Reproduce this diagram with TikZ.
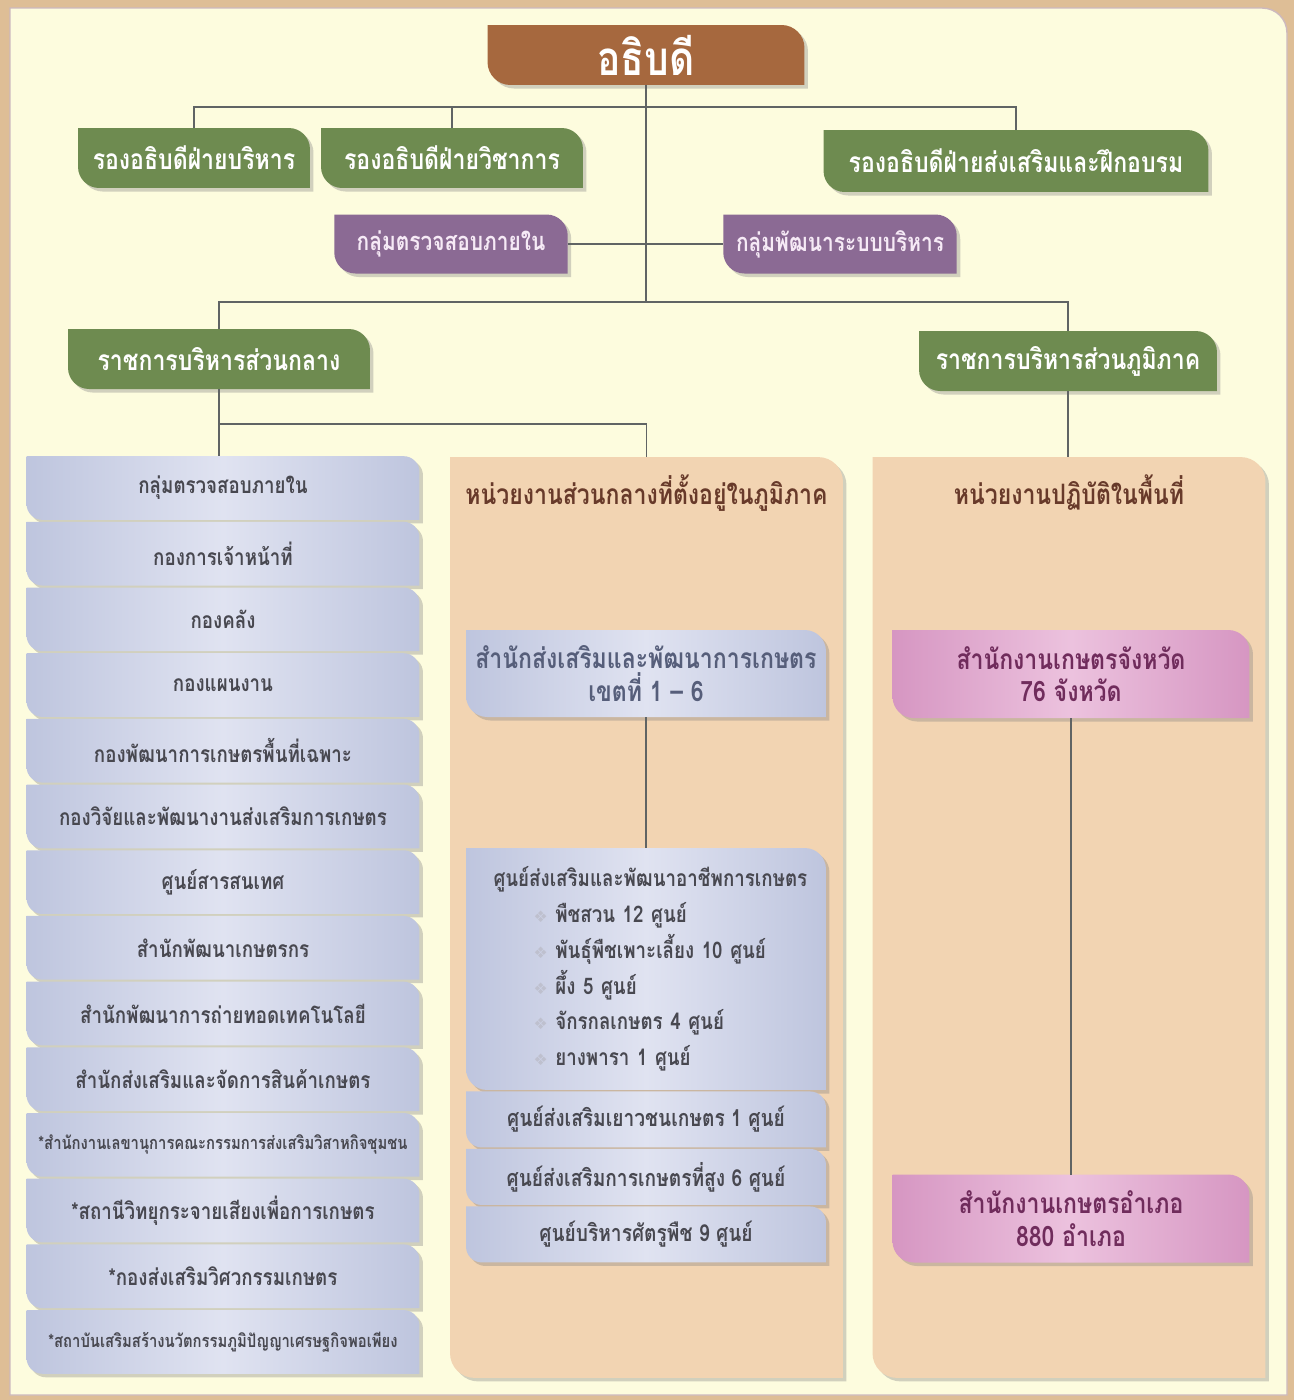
\documentclass[tikz,border=0pt]{standalone}
\usepackage{fontspec}
\usepackage{tikz}
\usetikzlibrary{positioning,calc,shadows,backgrounds}
\usepackage{xcolor}
\newfontfamily\thaifont[Script=Thai,FakeStretch=0.82]{Loma}
\newfontfamily\symfont{DejaVu Sans}
\definecolor{PageCream}{RGB}{253,252,222}
\definecolor{OuterTan}{RGB}{222,190,150}
\definecolor{PanelEdge}{RGB}{205,185,190}
\definecolor{ChiefBrown}{RGB}{166,104,62}
\definecolor{VpGreen}{RGB}{110,139,80}
\definecolor{AuditPurple}{RGB}{139,106,148}
\definecolor{AuditText}{RGB}{246,234,246}
\definecolor{ListBlue}{RGB}{190,197,222}
\definecolor{ListBlueLight}{RGB}{224,227,241}
\definecolor{PanelTan}{RGB}{242,212,178}
\definecolor{TitleBrown}{RGB}{104,58,42}
\definecolor{ProvPink}{RGB}{214,150,194}
\definecolor{ProvPinkLight}{RGB}{236,194,222}
\definecolor{ProvText}{RGB}{112,44,92}
\definecolor{ListText}{RGB}{72,72,80}
\definecolor{ZoneText}{RGB}{86,94,122}
\definecolor{LinkGrey}{RGB}{96,100,100}
\definecolor{BulletGrey}{RGB}{190,192,206}
\pgfdeclarelayer{back}
\pgfdeclarelayer{boxes}
\pgfsetlayers{back,boxes,main}
% leaf shaped box behind a named node: square top-left and bottom-right corners
\newcommand{\leaf}[3]{%
  \path[#2, drop shadow={shadow xshift=2pt, shadow yshift=-2pt, opacity=0.35}]
    (#1.north west) -- ([xshift=-#3]#1.north east)
    .. controls ([xshift=-0.45*#3]#1.north east) and ([yshift=-0.45*#3]#1.north east) .. ([yshift=-#3]#1.north east)
    -- (#1.south east) -- ([xshift=#3]#1.south west)
    .. controls ([xshift=0.45*#3]#1.south west) and ([yshift=0.45*#3]#1.south west) .. ([yshift=#3]#1.south west) -- cycle;}

\begin{document}
\begin{tikzpicture}[
  x=0.02cm, y=-0.02cm,
  every node/.style={font=\thaifont\bfseries, inner sep=0pt, outer sep=0pt, align=center},
  chiefbox/.style={text=white, minimum width=6.34cm, minimum height=1.2cm, font=\thaifont\bfseries\fontsize{27}{30}\selectfont},
  vpbox/.style={text=white, minimum height=1.2cm, font=\thaifont\bfseries\fontsize{16}{19}\selectfont},
  groupbox/.style={text=AuditText, minimum width=4.67cm, minimum height=1.18cm, font=\thaifont\bfseries\fontsize{14.5}{17}\selectfont},
  listbox/.style={text=ListText, minimum width=7.86cm, minimum height=1.274cm, font=\thaifont\bfseries\fontsize{13}{15}\selectfont},
  listsmall/.style={listbox, font=\thaifont\bfseries\fontsize{10.3}{13}\selectfont},
  panel/.style={minimum width=7.86cm, minimum height=18.42cm},
  paneltitle/.style={text=TitleBrown, font=\thaifont\bfseries\fontsize{16}{19}\selectfont},
  zonebox/.style={text=ZoneText, minimum width=7.2cm, font=\thaifont\bfseries\fontsize{16}{18.7}\selectfont},
  centrebox/.style={text=ListText, minimum width=7.2cm, minimum height=1.12cm, font=\thaifont\bfseries\fontsize{13.3}{15}\selectfont},
  provbox/.style={text=ProvText, minimum width=7.14cm, minimum height=1.76cm, font=\thaifont\bfseries\fontsize{16}{18.5}\selectfont},
  link/.style={draw=LinkGrey, line width=0.8pt}
]
\useasboundingbox (0,0) rectangle (1294,1400);

% top of the chart
\node[chiefbox] (chief) at (646,55) {อธิบดี};
\node[vpbox, minimum width=4.64cm] (vp1) at (194,158) {รองอธิบดีฝ่ายบริหาร};
\node[vpbox, minimum width=5.24cm] (vp2) at (452,158) {รองอธิบดีฝ่ายวิชาการ};
\node[vpbox, minimum width=7.7cm, minimum height=1.24cm] (vp3) at (1016,161) {รองอธิบดีฝ่ายส่งเสริมและฝึกอบรม};
\node[groupbox] (audit) at (451,244) {กลุ่มตรวจสอบภายใน};
\node[groupbox] (devgrp) at (840,244) {กลุ่มพัฒนาระบบบริหาร};
\node[vpbox, minimum width=6.04cm] (central) at (219,359) {ราชการบริหารส่วนกลาง};
\node[vpbox, minimum width=5.96cm] (regional) at (1068,361) {ราชการบริหารส่วนภูมิภาค};

\coordinate (bus1) at (646,107);
\coordinate (bus2) at (646,302);
\coordinate (bus3) at (219,424);

% left column
\node[listbox] (l1) at (223,488) {กลุ่มตรวจสอบภายใน};
\node[listbox, below=0.04cm of l1] (l2) {กองการเจ้าหน้าที่};
\node[listbox, below=0.04cm of l2] (l3) {กองคลัง};
\node[listbox, below=0.04cm of l3] (l4) {กองแผนงาน};
\node[listbox, below=0.04cm of l4] (l5) {กองพัฒนาการเกษตรพื้นที่เฉพาะ};
\node[listbox, below=0.04cm of l5] (l6) {กองวิจัยและพัฒนางานส่งเสริมการเกษตร};
\node[listbox, below=0.04cm of l6] (l7) {ศูนย์สารสนเทศ};
\node[listbox, below=0.04cm of l7] (l8) {สำนักพัฒนาเกษตรกร};
\node[listbox, below=0.04cm of l8] (l9) {สำนักพัฒนาการถ่ายทอดเทคโนโลยี};
\node[listbox, below=0.04cm of l9] (l10) {สำนักส่งเสริมและจัดการสินค้าเกษตร};
\node[listsmall, below=0.04cm of l10] (l11) {*สำนักงานเลขานุการคณะกรรมการส่งเสริมวิสาหกิจชุมชน};
\node[listbox, below=0.04cm of l11] (l12) {*สถานีวิทยุกระจายเสียงเพื่อการเกษตร};
\node[listbox, below=0.04cm of l12] (l13) {*กองส่งเสริมวิศวกรรมเกษตร};
\node[listsmall, below=0.04cm of l13] (l14) {*สถาบันเสริมสร้างนวัตกรรมภูมิปัญญาเศรษฐกิจพอเพียง};

% middle column
\node[panel] (mid) at (646.5,917.5) {};
\node[paneltitle] (midtitle) at (646.5,493) {หน่วยงานส่วนกลางที่ตั้งอยู่ในภูมิภาค};
\node[zonebox, minimum height=1.74cm] (zone) at (646,673.5) {สำนักส่งเสริมและพัฒนาการเกษตร\\เขตที่ 1 – 6};
\node[centrebox, minimum height=4.84cm, align=left, text width=6.1cm, font=\thaifont\bfseries\fontsize{13}{20.4}\selectfont] (career) at (646,969)
  {ศูนย์ส่งเสริมและพัฒนาอาชีพการเกษตร\\
   \hspace*{0.8cm}{\symfont\color{BulletGrey}\small ❖} พืชสวน 12 ศูนย์\\
   \hspace*{0.8cm}{\symfont\color{BulletGrey}\small ❖} พันธุ์พืชเพาะเลี้ยง 10 ศูนย์\\
   \hspace*{0.8cm}{\symfont\color{BulletGrey}\small ❖} ผึ้ง 5 ศูนย์\\
   \hspace*{0.8cm}{\symfont\color{BulletGrey}\small ❖} จักรกลเกษตร 4 ศูนย์\\
   \hspace*{0.8cm}{\symfont\color{BulletGrey}\small ❖} ยางพารา 1 ศูนย์};
\node[centrebox, below=0.03cm of career] (youth) {ศูนย์ส่งเสริมเยาวชนเกษตร 1 ศูนย์};
\node[centrebox, below=0.03cm of youth] (highland) {ศูนย์ส่งเสริมการเกษตรที่สูง 6 ศูนย์};
\node[centrebox, below=0.03cm of highland] (pest) {ศูนย์บริหารศัตรูพืช 9 ศูนย์};

% right column
\node[panel] (field) at (1069,917.5) {};
\node[paneltitle] (fieldtitle) at (1069,493) {หน่วยงานปฏิบัติในพื้นที่};
\node[provbox] (prov) at (1071,674) {สำนักงานเกษตรจังหวัด\\76 จังหวัด};
\node[provbox] (dist) at (1071,1218.5) {สำนักงานเกษตรอำเภอ\\880 อำเภอ};

% connectors
\draw[link] (chief.south) -- (bus2);
\draw[link] (vp1.north) |- (vp3.north |- bus1) -- (vp3.north);
\draw[link] (vp2.north) -- (vp2.north |- bus1);
\draw[link] (audit.east) -- (devgrp.west);
\draw[link] (central.north) |- (regional.north |- bus2) -- (regional.north);
\draw[link] (central.south) -- (central.south |- l1.north);
\draw[link] (bus3) -| (mid.north);
\draw[link] (regional.south) -- (regional.south |- field.north);
\draw[link] (zone.south) -- (career.north);
\draw[link] (prov.south) -- (dist.north);

% box shapes
\begin{pgfonlayer}{back}
  \fill[OuterTan] (0,0) rectangle (1294,1400);
  \path[fill=PageCream, draw=PanelEdge, line width=0.8pt] (10,8) -- (1262,8) .. controls (1276,8) and (1287,19) .. (1287,33) -- (1287,1395) -- (10,1395) -- cycle;
\end{pgfonlayer}
\begin{pgfonlayer}{boxes}
  \leaf{chief}{fill=ChiefBrown}{13pt}
  \leaf{vp1}{fill=VpGreen}{12pt}
  \leaf{vp2}{fill=VpGreen}{12pt}
  \leaf{vp3}{fill=VpGreen}{12pt}
  \leaf{audit}{fill=AuditPurple}{12pt}
  \leaf{devgrp}{fill=AuditPurple}{12pt}
  \leaf{central}{fill=VpGreen}{12pt}
  \leaf{regional}{fill=VpGreen}{12pt}
  \leaf{l1}{left color=ListBlue, right color=ListBlue, middle color=ListBlueLight}{9pt}
  \leaf{l2}{left color=ListBlue, right color=ListBlue, middle color=ListBlueLight}{9pt}
  \leaf{l3}{left color=ListBlue, right color=ListBlue, middle color=ListBlueLight}{9pt}
  \leaf{l4}{left color=ListBlue, right color=ListBlue, middle color=ListBlueLight}{9pt}
  \leaf{l5}{left color=ListBlue, right color=ListBlue, middle color=ListBlueLight}{9pt}
  \leaf{l6}{left color=ListBlue, right color=ListBlue, middle color=ListBlueLight}{9pt}
  \leaf{l7}{left color=ListBlue, right color=ListBlue, middle color=ListBlueLight}{9pt}
  \leaf{l8}{left color=ListBlue, right color=ListBlue, middle color=ListBlueLight}{9pt}
  \leaf{l9}{left color=ListBlue, right color=ListBlue, middle color=ListBlueLight}{9pt}
  \leaf{l10}{left color=ListBlue, right color=ListBlue, middle color=ListBlueLight}{9pt}
  \leaf{l11}{left color=ListBlue, right color=ListBlue, middle color=ListBlueLight}{9pt}
  \leaf{l12}{left color=ListBlue, right color=ListBlue, middle color=ListBlueLight}{9pt}
  \leaf{l13}{left color=ListBlue, right color=ListBlue, middle color=ListBlueLight}{9pt}
  \leaf{l14}{left color=ListBlue, right color=ListBlue, middle color=ListBlueLight}{9pt}
  \leaf{mid}{fill=PanelTan}{14pt}
  \leaf{field}{fill=PanelTan}{14pt}
  \leaf{zone}{left color=ListBlue, right color=ListBlue, middle color=ListBlueLight}{12pt}
  \leaf{career}{left color=ListBlue, right color=ListBlue, middle color=ListBlueLight}{12pt}
  \leaf{youth}{left color=ListBlue, right color=ListBlue, middle color=ListBlueLight}{9pt}
  \leaf{highland}{left color=ListBlue, right color=ListBlue, middle color=ListBlueLight}{9pt}
  \leaf{pest}{left color=ListBlue, right color=ListBlue, middle color=ListBlueLight}{9pt}
  \leaf{prov}{left color=ProvPink, right color=ProvPink, middle color=ProvPinkLight}{12pt}
  \leaf{dist}{left color=ProvPink, right color=ProvPink, middle color=ProvPinkLight}{12pt}
\end{pgfonlayer}
\end{tikzpicture}
\end{document}
